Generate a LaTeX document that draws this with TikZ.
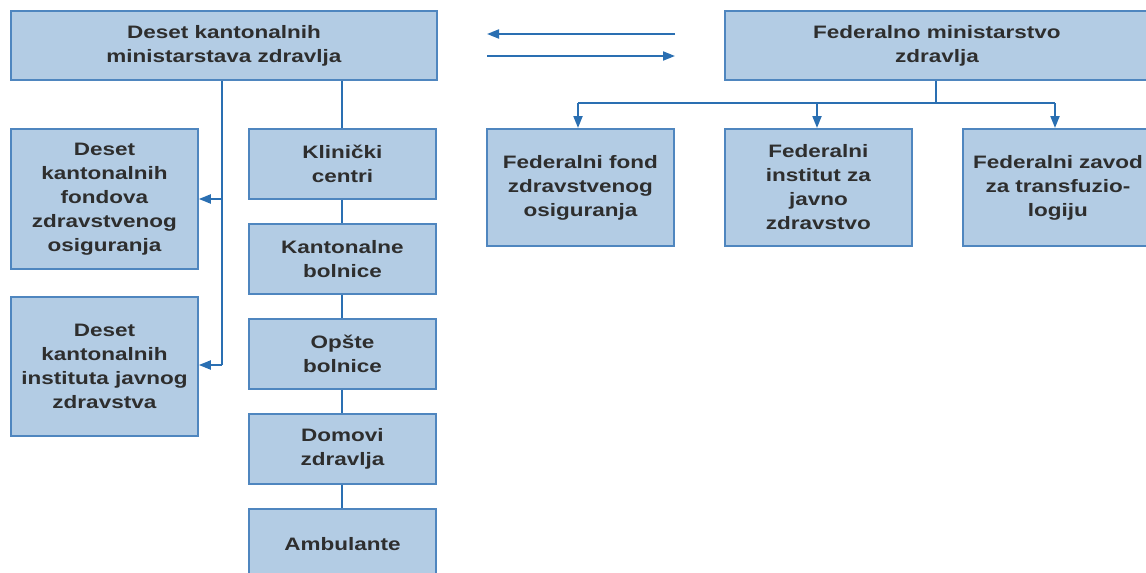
\documentclass[tikz,border=0pt]{standalone}
\usepackage{fontspec}
\setmainfont[FakeStretch=1.25]{Liberation Sans}
\usetikzlibrary{arrows.meta,positioning}
\definecolor{boxfill}{HTML}{B3CCE4}
\definecolor{boxline}{HTML}{4F86BF}
\definecolor{conn}{HTML}{2A6FB2}
\definecolor{txt}{HTML}{2E2E2E}
\tikzset{
  orgbox/.style={draw=boxline, fill=boxfill, line width=1.8pt, anchor=north west,
    inner sep=0pt, align=center, text=txt, font=\bfseries\fontsize{18}{24}\selectfont},
  link/.style={draw=conn, line width=2pt},
  arr/.style={link, -{Triangle[length=12pt,width=9pt]}}
}
\begin{document}
\begin{tikzpicture}[x=1pt,y=-1pt]
\useasboundingbox (0,0) rectangle (1146,573);
\clip (0,0) rectangle (1146,573);
% top boxes
\node[orgbox, minimum width=426pt, minimum height=69pt] (kmin) at (10,10) {Deset kantonalnih\\ministarstava zdravlja};
\node[orgbox, minimum width=424pt, minimum height=69pt] (fmin) at (724,10) {Federalno ministarstvo\\zdravlja};
% left column
\node[orgbox, minimum width=187pt, minimum height=140pt] (kfond) at (10,128) {Deset\\kantonalnih\\fondova\\zdravstvenog\\osiguranja};
\node[orgbox, minimum width=187pt, minimum height=139pt] (kinst) at (10,296) {Deset\\kantonalnih\\instituta javnog\\zdravstva};
% middle column
\node[orgbox, minimum width=187pt, minimum height=70pt] (klin) at (248,128) {Klinički\\centri};
\node[orgbox, minimum width=187pt, minimum height=70pt] (kbol) at (248,223) {Kantonalne\\bolnice};
\node[orgbox, minimum width=187pt, minimum height=70pt] (obol) at (248,318) {Opšte\\bolnice};
\node[orgbox, minimum width=187pt, minimum height=70pt] (dom) at (248,413) {Domovi\\zdravlja};
\node[orgbox, minimum width=187pt, minimum height=70pt] (amb) at (248,508) {Ambulante};
% right column
\node[orgbox, minimum width=187pt, minimum height=117pt] (ffond) at (486,128) {Federalni fond\\zdravstvenog\\osiguranja};
\node[orgbox, minimum width=187pt, minimum height=117pt] (finst) at (724,128) {Federalni\\institut za\\javno\\zdravstvo};
\node[orgbox, minimum width=190pt, minimum height=117pt, text width=184pt] (fzav) at (962,128) {Federalni zavod\\za transfuzio-\\logiju};
% connectors between ministries
\coordinate (a1s) at (675,34);
\coordinate (a1e) at (487,34);
\coordinate (a2s) at (487,56);
\coordinate (a2e) at (675,56);
\draw[arr] (a1s) -- (a1e);
\draw[arr] (a2s) -- (a2e);
% cantonal left branch
\draw[link] (kmin.south -| 222,0) -- (222,365);
\draw[arr] (222,199) -- (kfond.east |- 0,199);
\draw[arr] (222,365) -- (kinst.east |- 0,365);
% middle chain
\draw[link] (kmin.south -| klin.north) -- (klin.north);
\draw[link] (klin) -- (kbol);
\draw[link] (kbol) -- (obol);
\draw[link] (obol) -- (dom);
\draw[link] (dom) -- (amb);
% federal branch
\draw[link] (fmin.south -| 936,0) -- (936,103);
\draw[link] (578,103) -- (1055,103);
\draw[arr] (578,103) -- (ffond.north -| 578,0);
\draw[arr] (817,103) -- (finst.north -| 817,0);
\draw[arr] (1055,103) -- (fzav.north -| 1055,0);
\end{tikzpicture}
\end{document}
